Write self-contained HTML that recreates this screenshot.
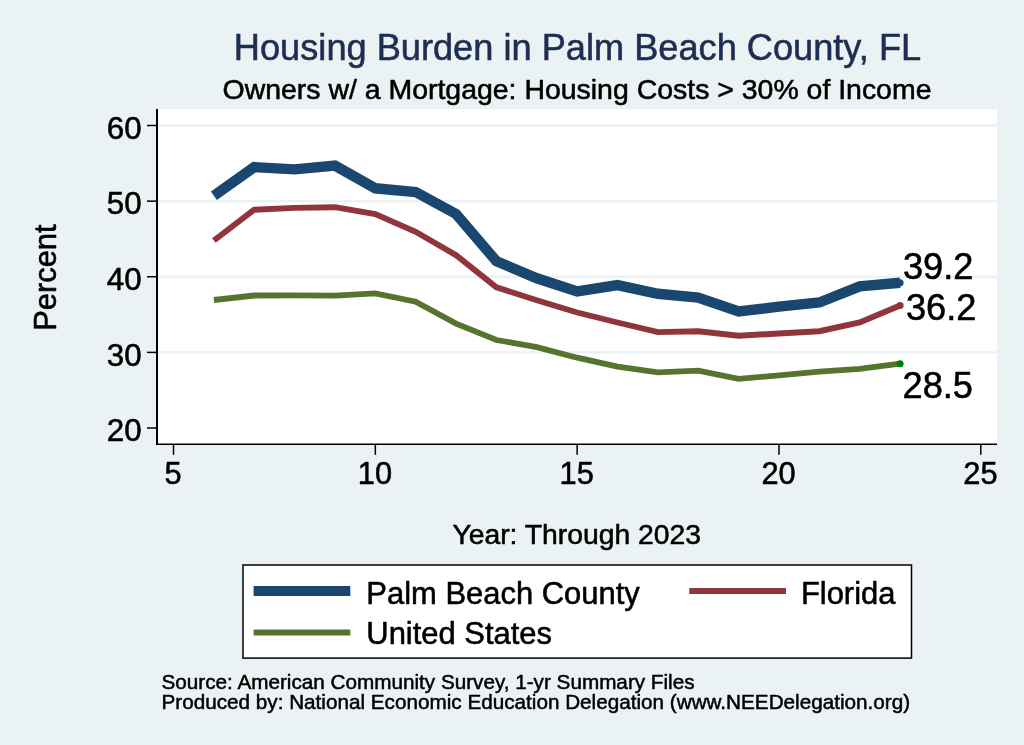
<!DOCTYPE html>
<html lang="en">
<head>
<meta charset="utf-8">
<title>Housing Burden in Palm Beach County, FL</title>
<style>
html,body{margin:0;padding:0;background:#eaf2f3;}
body{width:1024px;height:745px;overflow:hidden;}
svg text{stroke:#000;stroke-width:0.55px;stroke-linejoin:round;} svg text.t{stroke:#1e2d53;} svg text.s{stroke-width:0.5px;} svg{will-change:transform;}
</style>
</head>
<body>
<svg width="1024" height="745" viewBox="0 0 1024 745" font-family='"Liberation Sans", Arial, Helvetica, sans-serif' style="display:block">
<rect x="0" y="0" width="1024" height="745" fill="#eaf2f3"/>
<rect x="157" y="109" width="840" height="335.5" fill="#ffffff"/>
<line x1="158" x2="997" y1="352.38" y2="352.38" stroke="#eaf2f3" stroke-width="2.3"/>
<line x1="158" x2="997" y1="276.75" y2="276.75" stroke="#eaf2f3" stroke-width="2.3"/>
<line x1="158" x2="997" y1="201.12" y2="201.12" stroke="#eaf2f3" stroke-width="2.3"/>
<line x1="158" x2="997" y1="125.50" y2="125.50" stroke="#eaf2f3" stroke-width="2.3"/>
<polyline points="213.9,300.0 254.2,295.5 294.6,295.3 335.0,295.7 375.3,293.4 415.7,301.7 456.1,323.6 496.4,340.0 536.8,347.1 577.2,357.7 617.5,366.7 657.9,372.3 698.2,370.7 738.6,378.8 779.0,375.4 819.3,371.7 859.7,368.8 900.1,363.7" fill="none" stroke="#55752f" stroke-width="5.8" stroke-linejoin="miter" stroke-linecap="butt"/>
<polyline points="213.9,240.5 254.2,209.7 294.6,207.9 335.0,207.2 375.3,214.0 415.7,231.8 456.1,255.2 496.4,287.3 536.8,300.2 577.2,312.5 617.5,322.5 657.9,332.1 698.2,331.2 738.6,335.7 779.0,333.5 819.3,331.2 859.7,322.5 900.1,305.5" fill="none" stroke="#90353b" stroke-width="5.9" stroke-linejoin="miter" stroke-linecap="butt"/>
<polyline points="213.9,195.8 254.2,167.1 294.6,169.4 335.0,165.6 375.3,188.3 415.7,192.0 456.1,214.0 496.4,261.2 536.8,278.3 577.2,291.5 617.5,285.1 657.9,293.8 698.2,297.5 738.6,311.5 779.0,306.6 819.3,302.5 859.7,286.3 900.1,282.8" fill="none" stroke="#1a476f" stroke-width="10.4" stroke-linejoin="miter" stroke-linecap="butt"/>
<circle cx="900.1" cy="282.8" r="3.5" fill="#1a476f"/>
<circle cx="900.1" cy="305.5" r="3.5" fill="#90353b"/>
<circle cx="900.1" cy="363.7" r="3.5" fill="#008000"/>
<line x1="157" x2="157" y1="109" y2="445" stroke="#000" stroke-width="2"/>
<line x1="156" x2="997" y1="444.3" y2="444.3" stroke="#000" stroke-width="1.6"/>
<line x1="147" x2="157" y1="428.00" y2="428.00" stroke="#000" stroke-width="1.5"/>
<text x="141.6" y="441.30" font-size="31.3" text-anchor="end">20</text>
<line x1="147" x2="157" y1="352.38" y2="352.38" stroke="#000" stroke-width="1.5"/>
<text x="141.6" y="365.68" font-size="31.3" text-anchor="end">30</text>
<line x1="147" x2="157" y1="276.75" y2="276.75" stroke="#000" stroke-width="1.5"/>
<text x="141.6" y="290.05" font-size="31.3" text-anchor="end">40</text>
<line x1="147" x2="157" y1="201.12" y2="201.12" stroke="#000" stroke-width="1.5"/>
<text x="141.6" y="214.43" font-size="31.3" text-anchor="end">50</text>
<line x1="147" x2="157" y1="125.50" y2="125.50" stroke="#000" stroke-width="1.5"/>
<text x="141.6" y="138.80" font-size="31.3" text-anchor="end">60</text>
<line x1="173.50" x2="173.50" y1="444.3" y2="454.8" stroke="#000" stroke-width="1.5"/>
<text x="173.10" y="484" font-size="30.8" text-anchor="middle">5</text>
<line x1="375.33" x2="375.33" y1="444.3" y2="454.8" stroke="#000" stroke-width="1.5"/>
<text x="374.93" y="484" font-size="30.8" text-anchor="middle">10</text>
<line x1="577.15" x2="577.15" y1="444.3" y2="454.8" stroke="#000" stroke-width="1.5"/>
<text x="576.75" y="484" font-size="30.8" text-anchor="middle">15</text>
<line x1="778.98" x2="778.98" y1="444.3" y2="454.8" stroke="#000" stroke-width="1.5"/>
<text x="778.58" y="484" font-size="30.8" text-anchor="middle">20</text>
<line x1="980.80" x2="980.80" y1="444.3" y2="454.8" stroke="#000" stroke-width="1.5"/>
<text x="980.40" y="484" font-size="30.8" text-anchor="middle">25</text>
<text x="902.9" y="278.5" font-size="36.2">39.2</text>
<text x="905.95" y="320.2" font-size="36.2">36.2</text>
<text x="902.5" y="398" font-size="36.2">28.5</text>
<text x="577.5" y="60" font-size="36.2" fill="#1e2d53" class="t" text-anchor="middle">Housing Burden in Palm Beach County, FL</text>
<text x="577" y="98.5" font-size="28.45" text-anchor="middle">Owners w/ a Mortgage: Housing Costs &gt; 30% of Income</text>
<text x="576.7" y="544" font-size="28.3" text-anchor="middle">Year: Through 2023</text>
<text transform="translate(55.6,277.6) rotate(-90)" font-size="30.9" text-anchor="middle">Percent</text>
<rect x="243" y="565" width="668.5" height="93.1" fill="#ffffff" stroke="#000" stroke-width="1.5"/>
<line x1="253.6" x2="350.3" y1="591" y2="591" stroke="#1a476f" stroke-width="10"/>
<line x1="689.3" x2="786" y1="591" y2="591" stroke="#90353b" stroke-width="6"/>
<line x1="253.6" x2="350.3" y1="632.4" y2="632.4" stroke="#55752f" stroke-width="6"/>
<text x="366.3" y="603.8" font-size="30.95">Palm Beach County</text>
<text x="800.9" y="603.8" font-size="30.95">Florida</text>
<text x="366.3" y="644.3" font-size="30.95">United States</text>
<text x="161.5" y="689.0" font-size="20.7" class="s">Source: American Community Survey, 1-yr Summary Files</text>
<text x="161.5" y="709.0" font-size="20.7" class="s">Produced by: National Economic Education Delegation (www.NEEDelegation.org)</text>
</svg>
</body>
</html>
